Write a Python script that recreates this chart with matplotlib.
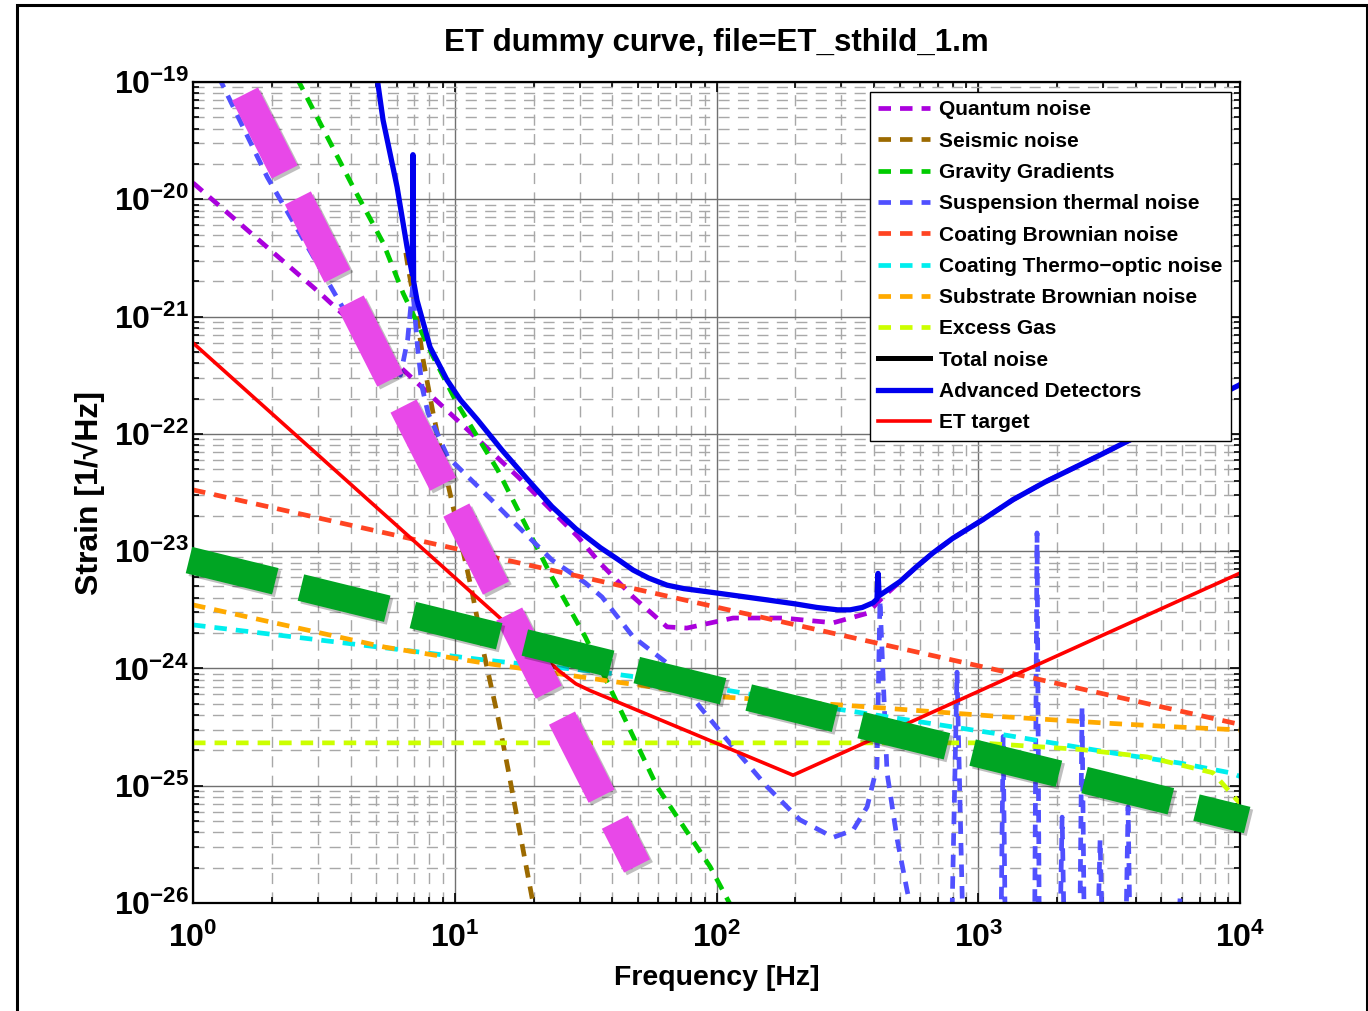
import numpy as np
import matplotlib
matplotlib.use("Agg")
import matplotlib.pyplot as plt
import matplotlib.patheffects as pe
from matplotlib.ticker import LogLocator, NullFormatter
from matplotlib.patches import Rectangle

plt.rcParams['font.family'] = ['Liberation Sans', 'DejaVu Sans']
plt.rcParams['font.weight'] = 'bold'
plt.rcParams['lines.scale_dashes'] = False

# Curves (frequency in Hz, strain in 1/sqrt(Hz))
quantum_f = [1, 3.06, 6.18, 9.02, 17.5, 29.6, 35.9, 48, 64.7, 77, 115.6, 179.5, 279, 376, 433,
             502, 580, 671, 800, 1042, 1358, 1800, 2918, 5000, 1e4]
quantum_h = [1.38e-20, 1.58e-21, 3.72e-22, 1.7e-22, 4.27e-23, 1.32e-23, 7.9e-24, 4.07e-24, 2.26e-24, 2.21e-24,
             2.69e-24, 2.69e-24, 2.45e-24, 2.95e-24, 4.07e-24,
             5.5e-24, 7.35e-24, 9.66e-24, 1.29e-23, 1.86e-23, 2.75e-23, 3.89e-23, 6.6e-23, 1.21e-22, 2.63e-22]

seismic_f = [6.5, 6.63, 7.17, 7.57, 8.26, 9.4, 11.6, 13, 14.6, 16, 19.9, 21]
seismic_h = [3.5e-21, 2.63e-21, 1e-21, 4.27e-22, 1.51e-22, 3.8e-23, 4.68e-24, 1.26e-24, 3.89e-25,
             1.36e-25, 1e-26, 6.3e-27]

gravity_f = [2.5, 4.09, 5.32, 6.35, 8.26, 10.2, 14.6, 23.5, 31.5, 41.7, 59.3, 94.5, 112, 120]
gravity_h = [1.07e-19, 1.27e-20, 4.27e-21, 1.58e-21, 4.57e-22, 1.82e-22, 4.9e-23, 6.0e-24, 1.86e-24, 5.1e-25,
             9.8e-26, 2.04e-26, 1e-26, 7.1e-27]

susp_f = [1.25, 1.92, 3.88, 6.2, 6.6, 6.9, 7.2, 7.5, 7.9, 9.4, 13.0, 17.5, 23.5, 31.5, 36.5, 48, 64.7, 86.5,
          115.6, 156, 208, 279, 332, 376, 410, 421, 448, 490, 534, 560,
          790, 829, 875, 1220, 1244, 1268, 1640, 1676, 1710, 2050, 2090, 2130, 2440, 2490, 2540,
          2860, 2918, 2980, 3660, 3733, 3800, 5800, 5900, 6000]
susp_h = [1.12e-19, 1.55e-20, 1.03e-21, 3.16e-22, 6.3e-22, 1.78e-21, 5.6e-22, 2.5e-22, 1.51e-22, 6.35e-23,
          3.13e-23, 1.61e-23, 8.41e-24, 5.37e-24, 4.07e-24, 1.86e-24, 1.11e-24, 4.68e-25,
          2.14e-25, 9.8e-26, 5.13e-26, 3.63e-26, 4.17e-26, 6.6e-26, 1.45e-25, 3.8e-24, 1.29e-25, 3.47e-26, 1.29e-26, 7.9e-27,
          5e-27, 9.3e-25, 5e-27, 5e-27, 2.63e-25, 5e-27, 5e-27, 1.43e-23, 5e-27, 5e-27, 5.4e-26, 5e-27, 5e-27, 4.7e-25, 5e-27,
          5e-27, 3.47e-26, 5e-27, 5e-27, 6.6e-26, 5e-27, 5e-27, 1.12e-26, 5e-27]

coating_f = [1, 1e4]
coating_h = [3.33e-23, 3.33e-25]

thermo_f = [1, 5.4, 13, 36.5, 106, 296, 1211, 3272, 5900, 9160, 1e4]
thermo_h = [2.35e-24, 1.5e-24, 1.18e-24, 9.3e-25, 6.6e-25, 4.47e-25, 2.75e-25, 1.9e-25, 1.56e-25, 1.29e-25, 1.2e-25]

substrate_f = [1, 5.4, 13, 36.5, 106, 296, 1211, 3272, 5900, 9130, 1e4]
substrate_h = [3.48e-24, 1.52e-24, 1.11e-24, 7.98e-25, 5.71e-25, 4.89e-25, 3.89e-25, 3.39e-25, 3.16e-25, 3.02e-25, 2.99e-25]

gas_f = [1, 1000, 2449, 4416, 7880, 9700, 1e4]
gas_h = [2.32e-25, 2.32e-25, 2.04e-25, 1.76e-25, 1.29e-25, 7.6e-26, 7.1e-26]

adv_f = [5.0, 5.32, 6.02, 6.57, 6.88, 6.92, 6.96, 7.17, 8.04, 9.34, 10.5, 12.2, 15.2, 19, 23.5, 29, 36, 42, 48,
         55, 64.7, 75, 100, 156, 200, 242, 290, 324, 360, 396, 410, 414, 418, 502, 580, 671, 800, 1042, 1358,
         1800, 2918, 5000, 1e4]
adv_h = [1.26e-19, 4.74e-20, 1.27e-20, 3.92e-21, 2.29e-21, 2.4e-20, 2.0e-21, 1.38e-21, 5.5e-22, 2.88e-22,
         1.95e-22, 1.32e-22, 7.2e-23, 4.07e-23, 2.4e-23, 1.55e-23, 1.07e-23, 8.5e-24, 6.9e-24,
         5.9e-24, 5.13e-24, 4.79e-24, 4.4e-24, 3.84e-24, 3.55e-24, 3.31e-24, 3.16e-24, 3.16e-24, 3.31e-24, 3.63e-24,
         3.9e-24, 6.46e-24, 4.17e-24, 5.5e-24, 7.35e-24, 9.66e-24, 1.29e-23, 1.86e-23, 2.75e-23,
         3.89e-23, 6.6e-23, 1.21e-22, 2.63e-22]

et_f = [1, 10, 25, 29, 33, 40, 196, 1e4]
et_h = [5.96e-22, 5.96e-24, 9.55e-25, 7.4e-25, 6.45e-25, 5.4e-25, 1.23e-25, 6.5e-24]

x_ticks = [1e0, 1e1, 1e2, 1e3, 1e4]
y_ticks = [1e-26, 1e-25, 1e-24, 1e-23, 1e-22, 1e-21, 1e-20, 1e-19]

# thick overlay strokes drawn on top of the chart
magenta_f = [1.58, 49.7]
magenta_h = [7.9e-20, 2.07e-26]
green_f = [0.965, 10640]
green_h = [8.4e-24, 5.1e-26]

fig = plt.figure(figsize=(13.68, 10.11), dpi=100)
ax = fig.add_axes([0.1411, 0.1068, 0.7654, 0.8121])

dash = (9, 6.5)
lw = 3.4
ax.plot(quantum_f, quantum_h, color='#AA00DD', lw=lw, dashes=dash, label='Quantum noise')
ax.plot(seismic_f, seismic_h, color='#9C6A00', lw=lw, dashes=dash, label='Seismic noise')
ax.plot(gravity_f, gravity_h, color='#00CC00', lw=lw, dashes=dash, label='Gravity Gradients')
ax.plot(susp_f, susp_h, color='#5050FF', lw=lw, dashes=dash, label='Suspension thermal noise')
ax.plot(coating_f, coating_h, color='#FF4422', lw=lw, dashes=dash, label='Coating Brownian noise')
ax.plot(thermo_f, thermo_h, color='#00EEEE', lw=lw, dashes=dash, label='Coating Thermo\u2212optic noise')
ax.plot(substrate_f, substrate_h, color='#FFAA00', lw=lw, dashes=dash, label='Substrate Brownian noise')
ax.plot(gas_f, gas_h, color='#CCFF00', lw=lw, dashes=dash, label='Excess Gas')
ax.plot([], [], color='black', lw=3.6, label='Total noise')
ax.plot(adv_f, adv_h, color='#0000EE', lw=3.8, label='Advanced Detectors')
ax.plot(et_f, et_h, color='#FF0000', lw=2.6, label='ET target')

ax.set_xscale('log')
ax.set_yscale('log')
ax.set_xlim(1, 1e4)
ax.set_ylim(1e-26, 1e-19)

ax.set_xticks(x_ticks)
ax.set_yticks(y_ticks)
ax.xaxis.set_minor_locator(LogLocator(base=10, subs=np.arange(2, 10), numticks=100))
ax.yaxis.set_minor_locator(LogLocator(base=10, subs=np.arange(2, 10), numticks=100))
ax.xaxis.set_minor_formatter(NullFormatter())
ax.yaxis.set_minor_formatter(NullFormatter())

ax.grid(which='major', color='#707070', lw=1.0, ls='-')
ax.grid(which='minor', color='#a8a8a8', lw=1.0, dashes=(8, 6))
ax.set_axisbelow(True)
ax.tick_params(which='both', direction='in', top=True, right=True, width=1.2, colors='black')
ax.tick_params(which='major', length=7, labelsize=23)
ax.tick_params(axis='x', which='major', pad=14)
ax.tick_params(axis='y', which='major', pad=3)
ax.tick_params(which='minor', length=4)
for s in ax.spines.values():
    s.set_linewidth(1.6)

ax.set_title('ET dummy curve, file=ET_sthild_1.m', fontsize=22.5, fontweight='bold', pad=22)
ax.set_xlabel('Frequency [Hz]', fontsize=20.5, fontweight='bold', labelpad=8)
ax.set_ylabel('Strain [1/\u221aHz]', fontsize=23, fontweight='bold', labelpad=6)

leg = ax.legend(loc='upper right', bbox_to_anchor=(0.9914, 0.9878), fontsize=15, frameon=True,
                fancybox=False, framealpha=1, edgecolor='black', handlelength=2.5,
                handletextpad=0.45, labelspacing=0.59, borderpad=0.4, borderaxespad=0)
leg.get_frame().set_linewidth(1.0)

shadow = [pe.SimpleLineShadow(offset=(2, -2), shadow_color='black', alpha=0.25), pe.Normal()]
ax.plot(magenta_f, magenta_h, color='#E848E8', lw=21, dashes=(63, 21), solid_capstyle='butt',
        dash_capstyle='butt', clip_on=False, zorder=5, path_effects=shadow)
ax.plot(green_f, green_h, color='#00A523', lw=19.5, dashes=(64, 19), solid_capstyle='butt',
        dash_capstyle='butt', clip_on=False, zorder=6, path_effects=shadow)

fig.patches.append(Rectangle((17 / 1368, -0.02), 1350 / 1368, 1.02 - 5 / 1011, fill=False,
                             edgecolor='black', lw=2.2, transform=fig.transFigure, clip_on=False))

fig.savefig('out.png', dpi=100)
